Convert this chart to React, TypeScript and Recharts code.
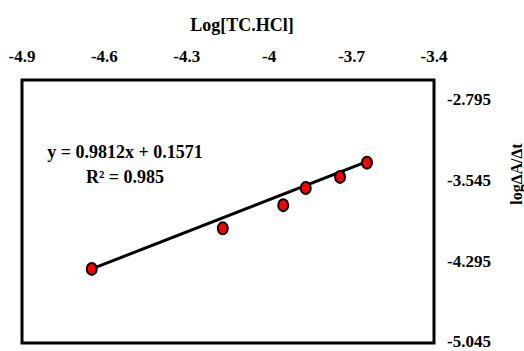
import React from 'react';
import { ScatterChart, Scatter, XAxis, YAxis, ReferenceArea, ReferenceLine, Customized } from 'recharts';

// values
const logConc = [-4.646, -4.169, -3.949, -3.867, -3.742, -3.644];
const logRate = [-4.359, -3.983, -3.769, -3.61, -3.507, -3.376];
const xTicks = [-4.9, -4.6, -4.3, -4, -3.7, -3.4];
const yTicks = [-2.795, -3.545, -4.295, -5.045];
const fitStart = { x: -4.646, y: -4.359 };
const fitEnd = { x: -3.633, y: -3.355 };
const equation = 'y = 0.9812x + 0.1571';
const rSquared = 'R² = 0.985';

const font = 'Liberation Serif';
const points = logConc.map((x, i) => ({ x, y: logRate[i] }));

const Dot = (props: any) => (
  <ellipse cx={props.cx} cy={props.cy} rx={5} ry={6} fill="#ff0000" stroke="#000" strokeWidth={2} />
);

const renderXTick = ({ x, y, payload }: any) => (
  <text key={`xt-${payload.value}`} x={x} y={y} dy={-2} textAnchor="middle"
    fontFamily={font} fontWeight="bold" fontSize={17} fill="#000">
    {payload.value}
  </text>
);

const renderYTick = ({ x, y, payload }: any) => (
  <text key={`yt-${payload.value}`} x={x} y={y} dy={5} textAnchor="start"
    fontFamily={font} fontWeight="bold" fontSize={17} fill="#000">
    {payload.value}
  </text>
);

const Texts = () => (
  <g fontFamily={font} fontWeight="bold" fill="#000">
    <text x={242} y={31} fontSize={18} textAnchor="middle">Log[TC.HCl]</text>
    <text x={125} y={158} fontSize={18} textAnchor="middle">{equation}</text>
    <text x={125} y={183} fontSize={18} textAnchor="middle">{rSquared}</text>
    <text x={0} y={0} fontSize={16} textAnchor="middle" transform="translate(522,174) rotate(-90)">log∆A/∆t</text>
  </g>
);

export default function App() {
  return (
    <div style={{ position: 'absolute', left: 0, top: 0, fontFamily: font }}>
      <ScatterChart width={524} height={351} margin={{ top: 0, right: 0, bottom: 8, left: 22 }}
        style={{ fontFamily: font }}>
        <XAxis
          type="number"
          dataKey="x"
          orientation="top"
          domain={[-4.9, -3.4]}
          ticks={xTicks}
          height={80}
          axisLine={false}
          tickLine={false}
          tickSize={0}
          tickMargin={16}
          tick={renderXTick}
        />
        <YAxis
          type="number"
          dataKey="y"
          orientation="right"
          domain={[-5.045, -2.61]}
          ticks={yTicks}
          width={90}
          axisLine={false}
          tickLine={false}
          tickSize={0}
          tickMargin={13}
          tick={renderYTick}
        />
        <ReferenceArea x1={-4.9} x2={-3.4} y1={-5.045} y2={-2.61} fill="none" stroke="#000" strokeWidth={3} />
        <Scatter data={points} shape={Dot} isAnimationActive={false} />
        <ReferenceLine segment={[fitStart, fitEnd]} stroke="#000" strokeWidth={3} />
        <Customized component={Texts} />
      </ScatterChart>
    </div>
  );
}
